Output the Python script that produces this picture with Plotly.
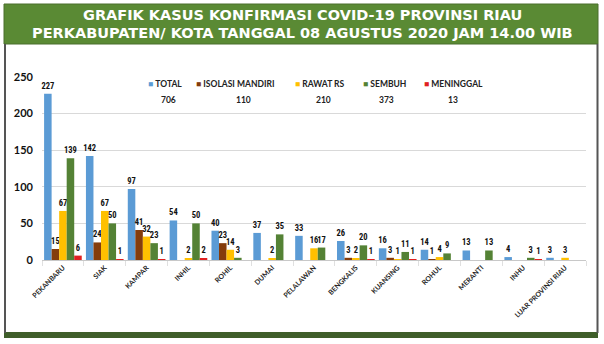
import plotly.graph_objects as go

# Kabupaten / kota
categories = ["PEKANBARU", "SIAK", "KAMPAR", "INHIL", "ROHIL", "DUMAI", "PELALAWAN",
              "BENGKALIS", "KUANSING", "ROHUL", "MERANTI", "INHU", "LUAR PROVINSI RIAU"]

total      = [227, 142, 97, 54, 40, 37, 33, 26, 16, 14, 13, 4, 3]
isolasi    = [15, 24, 41, 0, 23, 0, 0, 3, 3, 1, 0, 0, 0]
rawat_rs   = [67, 67, 32, 2, 14, 2, 16, 2, 1, 4, 0, 0, 3]
sembuh     = [139, 50, 23, 50, 3, 35, 17, 20, 11, 9, 13, 3, 0]
meninggal  = [6, 1, 1, 2, 0, 0, 0, 1, 1, 0, 0, 1, 0]

series_names = ["TOTAL", "ISOLASI MANDIRI", "RAWAT RS", "SEMBUH", "MENINGGAL"]
series_values = [total, isolasi, rawat_rs, sembuh, meninggal]
series_colors = ["#5B9BD5", "#843C0C", "#FFC000", "#548235", "#E02020"]

y_ticks = [0, 50, 100, 150, 200, 250]

W, H = 604, 344
L, R, T, B = 42, 586, 77, 260  # plot area in pixels

def px_x(x):
    return (x - L) / (R - L)

def px_y(y):
    return (B - y) / (B - T)

FONT = "Lato, 'Liberation Sans', sans-serif"
NARROW = "'Liberation Sans Narrow', 'Roboto Condensed', Lato, sans-serif"

fig = go.Figure()
for name, vals, col in zip(series_names, series_values, series_colors):
    fig.add_trace(go.Bar(
        x=categories, y=vals, name=name, marker_color=col, marker_line_width=0,
        text=[str(v) if v else "" for v in vals],
        textposition="outside", constraintext="none",
        textfont=dict(family=NARROW, size=8.5, color="#111111", weight="bold"),
        cliponaxis=False, showlegend=False,
    ))

shapes = [
    # title banner
    dict(type="rect", xref="paper", yref="paper", x0=px_x(4), x1=px_x(598),
         y0=px_y(44), y1=px_y(4), fillcolor="#5A8A34", line=dict(color="#4a6f2c", width=1), layer="below"),
    # side borders
    dict(type="line", xref="paper", yref="paper", x0=px_x(5), x1=px_x(5),
         y0=px_y(333), y1=px_y(44), line=dict(color="#555555", width=2)),
    dict(type="line", xref="paper", yref="paper", x0=px_x(597.5), x1=px_x(597.5),
         y0=px_y(333), y1=px_y(44), line=dict(color="#555555", width=2)),
    # bottom strip
    dict(type="rect", xref="paper", yref="paper", x0=px_x(4), x1=px_x(598),
         y0=px_y(338), y1=px_y(332), fillcolor="#3F5E2A", line=dict(width=0), layer="below"),
]

title_font = dict(family="'DejaVu Sans', sans-serif", size=14.5, color="white")
annotations = [
    dict(text="<b>GRAFIK KASUS KONFIRMASI COVID-19 PROVINSI RIAU</b>", xref="paper", yref="paper",
         x=px_x(302), y=px_y(15), showarrow=False, xanchor="center", yanchor="middle",
         font=title_font),
    dict(text="<b>PERKABUPATEN/ KOTA TANGGAL 08 AGUSTUS 2020 JAM 14.00 WIB</b>", xref="paper", yref="paper",
         x=px_x(302), y=px_y(33), showarrow=False, xanchor="center", yanchor="middle",
         font=title_font),
]

# legend row with province totals underneath
legend_x = [147, 195, 294, 362, 423]
total_x = [168, 243, 323, 386, 453]
for name, vals, col, lx, tx in zip(series_names, series_values, series_colors, legend_x, total_x):
    annotations.append(dict(
        text=f"<span style='color:{col}'>■</span> <b>{name}</b>", xref="paper", yref="paper",
        x=px_x(lx - 1), y=px_y(84), showarrow=False, xanchor="left", yanchor="middle",
        font=dict(family=FONT, size=8.5, color="#222222")))
    annotations.append(dict(
        text=f"<b>{sum(vals)}</b>", xref="paper", yref="paper",
        x=px_x(tx), y=px_y(100), showarrow=False, xanchor="center", yanchor="middle",
        font=dict(family=FONT, size=8.5, color="#222222")))

fig.update_layout(
    width=W, height=H,
    margin=dict(l=L, r=W - R, t=T, b=H - B),
    paper_bgcolor="white", plot_bgcolor="white",
    barmode="group", bargap=0.1, bargroupgap=0,
    shapes=shapes, annotations=annotations,
    showlegend=False,
    uniformtext=dict(mode="show", minsize=8),
)
fig.update_xaxes(
    tickangle=-45, tickfont=dict(family=FONT, size=7, color="#222222", weight="bold"),
    showline=True, linecolor="#c8c8c8", linewidth=1,
    ticks="outside", tickson="boundaries", ticklen=5, tickcolor="#e0e0e0",
    showgrid=False,
)
fig.update_yaxes(
    range=[0, 250], tickvals=y_ticks,
    tickfont=dict(family=FONT, size=11, color="#111111", weight="bold"),
    gridcolor="#d9d9d9", gridwidth=1, zeroline=False, showline=False,
    ticklabelstandoff=8,
)

fig.write_html("out.html")
